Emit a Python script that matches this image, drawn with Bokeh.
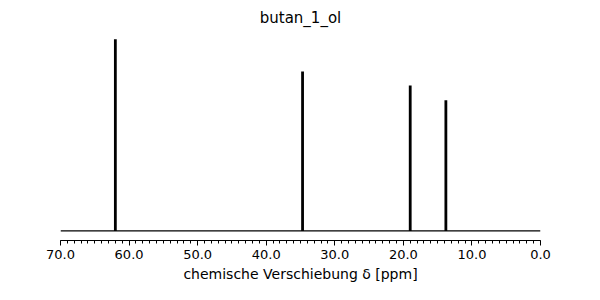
from bokeh.plotting import figure
from bokeh.models import Range1d, SingleIntervalTicker, PrintfTickFormatter
from bokeh.embed import file_html
from bokeh.resources import INLINE

title = "butan_1_ol"
x_label = "chemische Verschiebung δ [ppm]"
shifts = [62.0, 34.7, 19.0, 13.8]
intensities = [1.0, 0.832, 0.759, 0.681]
x_start, x_end = 70.0, 0.0

p = figure(width=600, height=300, output_backend="svg", toolbar_location=None,
           x_range=Range1d(x_start, x_end), y_range=Range1d(-0.05, 1.04),
           min_border_left=60, min_border_right=60, min_border_top=31, min_border_bottom=60,
           title=title)
p.title.align = "center"
p.title.text_font = "DejaVu Sans"
p.title.text_font_size = "15px"
p.title.text_font_style = "normal"
p.title.text_color = "black"
p.title.standoff = 9
p.outline_line_color = None
p.xgrid.visible = False
p.ygrid.visible = False
p.yaxis.visible = False
p.background_fill_color = "white"

p.line([x_start, x_end], [0, 0], line_color="black", line_width=1.3)
p.segment(x0=shifts, y0=[0]*len(shifts), x1=shifts, y1=intensities,
          line_color="black", line_width=2.8)

ax = p.xaxis[0]
ax.ticker = SingleIntervalTicker(interval=10, num_minor_ticks=10)
ax.formatter = PrintfTickFormatter(format="%.1f")
ax.axis_line_width = 1
ax.major_tick_in = 0
ax.major_tick_out = 5
ax.minor_tick_in = 0
ax.minor_tick_out = 3
ax.major_label_text_font = "DejaVu Sans"
ax.major_label_text_font_size = "13px"
ax.major_label_text_color = "black"
ax.major_label_standoff = 4
ax.axis_label = x_label
ax.axis_label_text_font = "DejaVu Sans"
ax.axis_label_text_font_size = "14px"
ax.axis_label_text_font_style = "normal"
ax.axis_label_text_color = "black"
ax.axis_label_standoff = 4

open("out.html", "w").write(file_html(p, INLINE))
